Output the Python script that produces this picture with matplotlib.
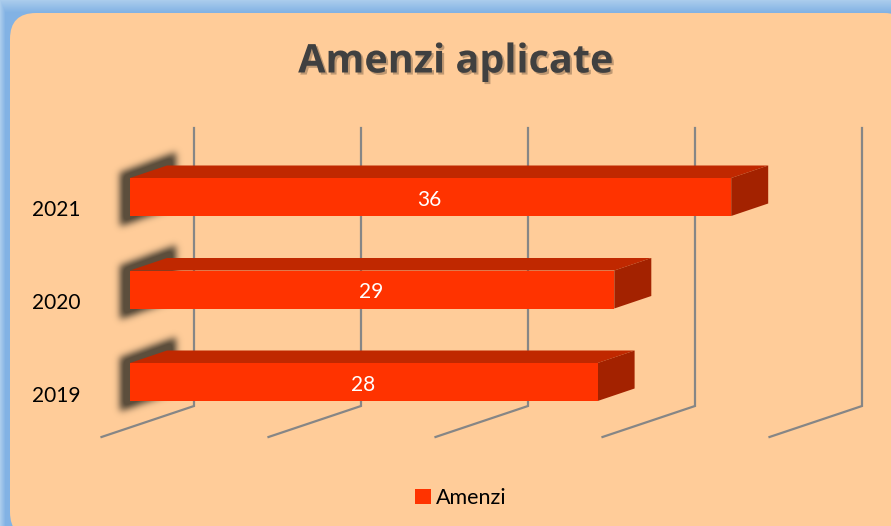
import numpy as np
import matplotlib
matplotlib.use('Agg')
import matplotlib.pyplot as plt
import matplotlib.patheffects as pe
from matplotlib.patches import FancyBboxPatch, Polygon
from matplotlib.path import Path
from matplotlib.transforms import ScaledTranslation

plt.rcParams['font.family'] = ['Lato', 'DejaVu Sans']

years = ['2019', '2020', '2021']
amenzi = [28, 29, 36]
grid_values = [0, 10, 20, 30, 40]
series_name = 'Amenzi'
title = 'Amenzi aplicate'

W, H = 891, 526
px_x = 16.7   # pixels per value unit
px_y = 92.5   # pixels per category
depth_x = 37 / px_x
depth_y = 12.5 / px_y
bar_h = 38 / px_y

fig = plt.figure(figsize=(W / 100, H / 100), dpi=100)

# background: blue border + rounded peach panel
bg = fig.add_axes([0, 0, 1, 1], zorder=0)
bg.axis('off')
yy, xx = np.mgrid[0:H, 0:W]
edge = np.clip(np.minimum(yy / 12.0, xx / 5.0), 0, 1)
light = np.array([170, 204, 236]) / 255
blue = np.array([130, 178, 228]) / 255
bg.imshow(light + (blue - light) * edge[..., None], extent=[0, W, H, 0], aspect='auto')
bg.add_patch(FancyBboxPatch((10, 13), 900, 525, boxstyle='round,pad=0,rounding_size=26',
                            fc='#FFCC99', ec='none'))
bg.set_xlim(0, W)
bg.set_ylim(H, 0)

ax = fig.add_axes([130 / W, 0, (W - 130) / W, 1], zorder=1)
ax.patch.set_alpha(0)
for s in ax.spines.values():
    s.set_visible(False)

y_pos = np.arange(len(years))

# gridlines: back wall and floor
wall_dx = 64 / px_x
floor_dx = -28.5 / px_x
floor_top = (382 - 406) / px_y
floor_bot = (382 - 437) / px_y
wall_top = (382 - 128) / px_y
for g in grid_values:
    ax.plot([g + floor_dx, g + wall_dx, g + wall_dx], [floor_bot, floor_top, wall_top],
            color='#868686', lw=1.6, zorder=1, solid_joinstyle='miter', clip_on=False)


def blur(a, sigma):
    r = int(3 * sigma)
    k = np.exp(-0.5 * (np.arange(-r, r + 1) / sigma) ** 2)
    k /= k.sum()
    a = np.apply_along_axis(lambda m: np.convolve(m, k, mode='same'), 0, a)
    return np.apply_along_axis(lambda m: np.convolve(m, k, mode='same'), 1, a)


# soft shadow behind the left end of every bar
x0, x1 = -30 / px_x, 75 / px_x
for y in y_pos:
    y0, y1 = y - 0.6, y + 0.75
    gx = np.linspace(x0, x1, 105)
    gy = np.linspace(y0, y1, 125)
    mx, my = np.meshgrid(gx, gy)
    shape = Path([(-10 / px_x, y - bar_h / 2 - 11 / px_y),
                  (-10 / px_x, y + bar_h / 2 + 5 / px_y),
                  (depth_x + 9 / px_x, y + bar_h / 2 + depth_y + 13 / px_y),
                  (depth_x + 9 / px_x, y - bar_h / 2 + depth_y - 4 / px_y),
                  ])
    mask = shape.contains_points(np.c_[mx.ravel(), my.ravel()]).reshape(mx.shape).astype(float)
    alpha = blur(mask, 3.5)
    rgba = np.zeros(mask.shape + (4,))
    rgba[..., :3] = np.array([92, 78, 60]) / 255
    rgba[..., 3] = np.clip(alpha * 1.15, 0, 1)
    ax.imshow(rgba, extent=[x0, x1, y0, y1], origin='lower', aspect='auto', zorder=2, clip_on=False)
ax.set_xlim(0, (W - 130) / px_x)
ax.set_ylim(-(526 - 382) / px_y, 382 / px_y)

# 3d bars
bars = ax.barh(y_pos, amenzi, height=bar_h, color='#FF3300', zorder=4, label=series_name)
label_drop = 3 / px_y
for y, v in zip(y_pos, amenzi):
    top = y + bar_h / 2
    bot = y - bar_h / 2
    ax.add_patch(Polygon([(0, top), (depth_x, top + depth_y), (v + depth_x, top + depth_y), (v, top)],
                         fc='#C02800', ec='none', zorder=3))
    ax.add_patch(Polygon([(v, top), (v + depth_x, top + depth_y), (v + depth_x, bot + depth_y), (v, bot)],
                         fc='#A32200', ec='none', zorder=3))
    ax.text(v / 2 - 0.05, y - label_drop, str(v), color='white', fontsize=15, ha='center', va='center', zorder=5)

ax.set_xticks([])
ax.set_yticks(y_pos, years)
ax.tick_params(axis='y', length=0, pad=35.5, labelsize=15, labelcolor='black')
shift = ScaledTranslation(0, -11.5 / 100, fig.dpi_scale_trans)
for lab in ax.get_yticklabels():
    lab.set_transform(lab.get_transform() + shift)

leg = ax.legend(handles=[bars[0]], labels=[series_name], loc='center', frameon=False, fontsize=15.5,
                bbox_to_anchor=(461 / W, 1 - 498 / H), bbox_transform=fig.transFigure,
                handlelength=0.7, handleheight=0.7, handletextpad=0.25, borderpad=0)

fig.text(456 / W, 1 - 62 / H, title, fontsize=28.5, fontweight='bold', color='#404040',
         family=['Open Sans', 'DejaVu Sans'], ha='center', va='center',
         path_effects=[pe.withSimplePatchShadow(offset=(1.5, -1.5), shadow_rgbFace='#000000', alpha=0.25)])

fig.savefig('out.png', dpi=100)
